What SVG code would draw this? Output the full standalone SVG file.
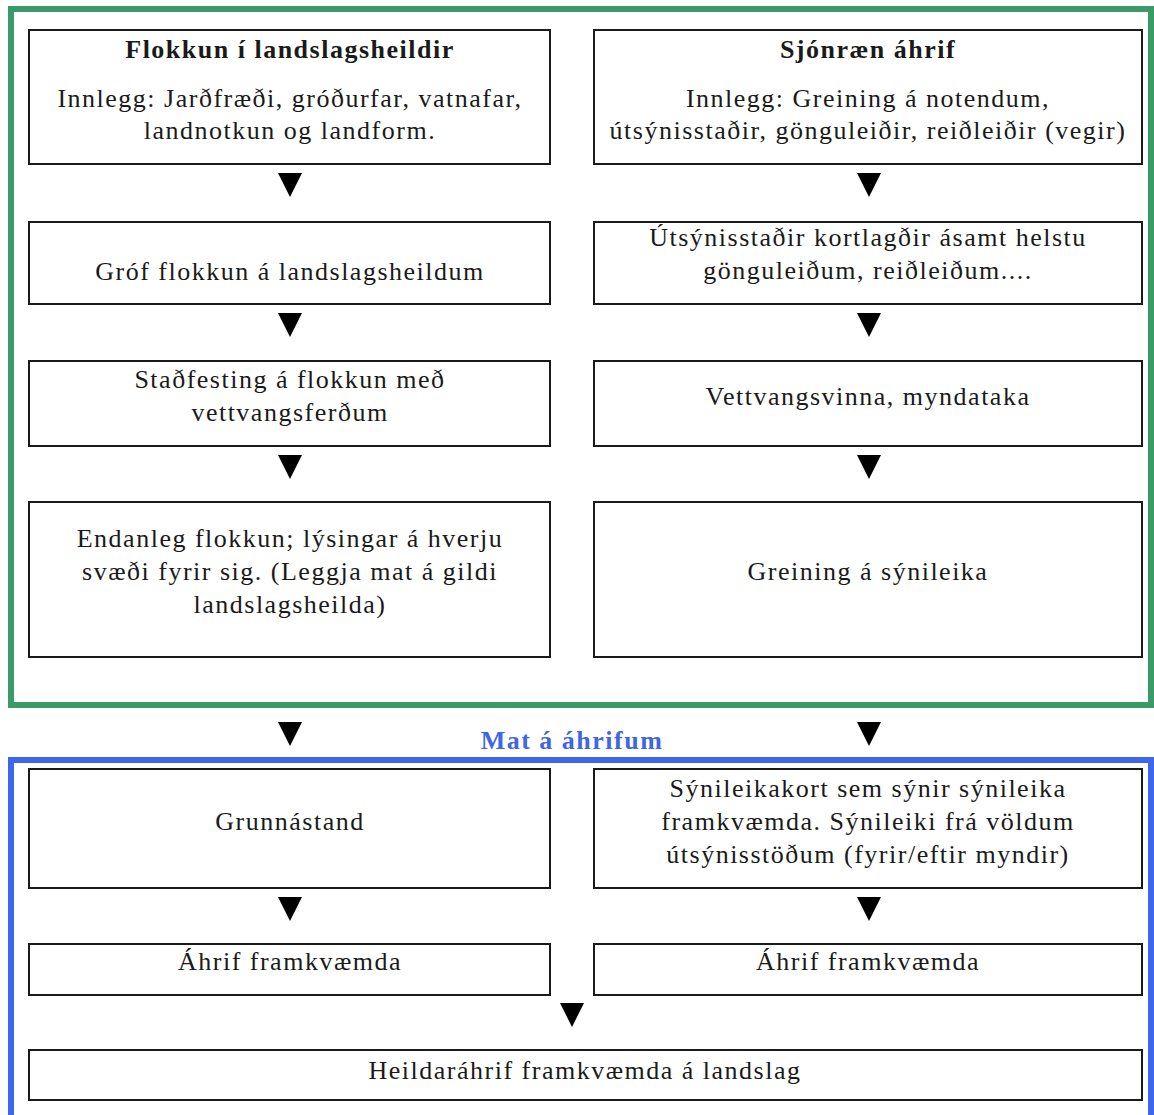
<svg xmlns="http://www.w3.org/2000/svg" width="1154" height="1115" viewBox="0 0 1154 1115">
  <style>
    .box { fill: #ffffff; stroke: #1a1a1a; stroke-width: 2; }
    .t { font-family: "Liberation Serif", "Times New Roman", serif; font-size: 26px; letter-spacing: 1.5px; fill: #1a1a1a; text-anchor: middle; }
    .b { font-weight: bold; }
    .head { font-family: "Liberation Serif", "Times New Roman", serif; font-size: 26px; letter-spacing: 1.5px; font-weight: bold; fill: #3f66e6; text-anchor: middle; }
    .tri { fill: #000000; }
  </style>
  <rect width="1154" height="1115" fill="#ffffff"/>

  <!-- frames -->
  <rect id="frame-survey" x="11" y="9" width="1140" height="696" fill="none" stroke="#3a9a68" stroke-width="6"/>
  <rect id="frame-assessment" x="11" y="760" width="1140" height="400" fill="none" stroke="#3f66ef" stroke-width="6"/>

  <!-- left column -->
  <g id="n-flokkun">
    <rect class="box" x="29" y="30" width="521" height="134"/>
    <text class="t b" x="290" y="58">Flokkun í landslagsheildir</text>
    <text class="t" x="290" y="107">Innlegg: Jarðfræði, gróðurfar, vatnafar,</text>
    <text class="t" x="290" y="139">landnotkun og landform.</text>
  </g>
  <g id="n-grof">
    <rect class="box" x="29" y="222" width="521" height="82"/>
    <text class="t" x="290" y="280">Gróf flokkun á landslagsheildum</text>
  </g>
  <g id="n-stadfesting">
    <rect class="box" x="29" y="361" width="521" height="85"/>
    <text class="t" x="290" y="388">Staðfesting á flokkun með</text>
    <text class="t" x="290" y="421">vettvangsferðum</text>
  </g>
  <g id="n-endanleg">
    <rect class="box" x="29" y="502" width="521" height="155"/>
    <text class="t" x="290" y="547">Endanleg flokkun; lýsingar á hverju</text>
    <text class="t" x="290" y="580">svæði fyrir sig. (Leggja mat á gildi</text>
    <text class="t" x="290" y="613">landslagsheilda)</text>
  </g>

  <!-- right column -->
  <g id="n-sjonraen">
    <rect class="box" x="594" y="30" width="548" height="134"/>
    <text class="t b" x="868" y="58">Sjónræn áhrif</text>
    <text class="t" x="868" y="107">Innlegg: Greining á notendum,</text>
    <text class="t" x="868" y="139">útsýnisstaðir, gönguleiðir, reiðleiðir (vegir)</text>
  </g>
  <g id="n-utsyni">
    <rect class="box" x="594" y="222" width="548" height="82"/>
    <text class="t" x="868" y="246">Útsýnisstaðir kortlagðir ásamt helstu</text>
    <text class="t" x="868" y="279">gönguleiðum, reiðleiðum....</text>
  </g>
  <g id="n-vettvangur">
    <rect class="box" x="594" y="361" width="548" height="85"/>
    <text class="t" x="868" y="405">Vettvangsvinna, myndataka</text>
  </g>
  <g id="n-syn">
    <rect class="box" x="594" y="502" width="548" height="155"/>
    <text class="t" x="868" y="580">Greining á sýnileika</text>
  </g>

  <text id="title-mat" class="head" x="572" y="749">Mat á áhrifum</text>

  <!-- assessment -->
  <g id="n-grunn">
    <rect class="box" x="29" y="769" width="521" height="119"/>
    <text class="t" x="290" y="830">Grunnástand</text>
  </g>
  <g id="n-kort">
    <rect class="box" x="594" y="769" width="548" height="119"/>
    <text class="t" x="868" y="797">Sýnileikakort sem sýnir sýnileika</text>
    <text class="t" x="868" y="830">framkvæmda. Sýnileiki frá völdum</text>
    <text class="t" x="868" y="863">útsýnisstöðum (fyrir/eftir myndir)</text>
  </g>
  <g id="n-ahrif-l">
    <rect class="box" x="29" y="944" width="521" height="51"/>
    <text class="t" x="290" y="970">Áhrif framkvæmda</text>
  </g>
  <g id="n-ahrif-r">
    <rect class="box" x="594" y="944" width="548" height="51"/>
    <text class="t" x="868" y="970">Áhrif framkvæmda</text>
  </g>
  <g id="n-heild">
    <rect class="box" x="29" y="1050" width="1113" height="50"/>
    <text class="t" x="585" y="1079">Heildaráhrif framkvæmda á landslag</text>
  </g>

  <!-- connectors: downward triangles -->
  <g id="connectors">
    <polygon class="tri" points="278,173 302,173 290,197"/>
    <polygon class="tri" points="857,173 881,173 869,197"/>
    <polygon class="tri" points="278,313 302,313 290,337"/>
    <polygon class="tri" points="857,313 881,313 869,337"/>
    <polygon class="tri" points="278,455 302,455 290,479"/>
    <polygon class="tri" points="857,455 881,455 869,479"/>
    <polygon class="tri" points="278,722 302,722 290,746"/>
    <polygon class="tri" points="857,722 881,722 869,746"/>
    <polygon class="tri" points="278,897 302,897 290,921"/>
    <polygon class="tri" points="857,897 881,897 869,921"/>
    <polygon class="tri" points="560,1003 584,1003 572,1027"/>
  </g>
</svg>
